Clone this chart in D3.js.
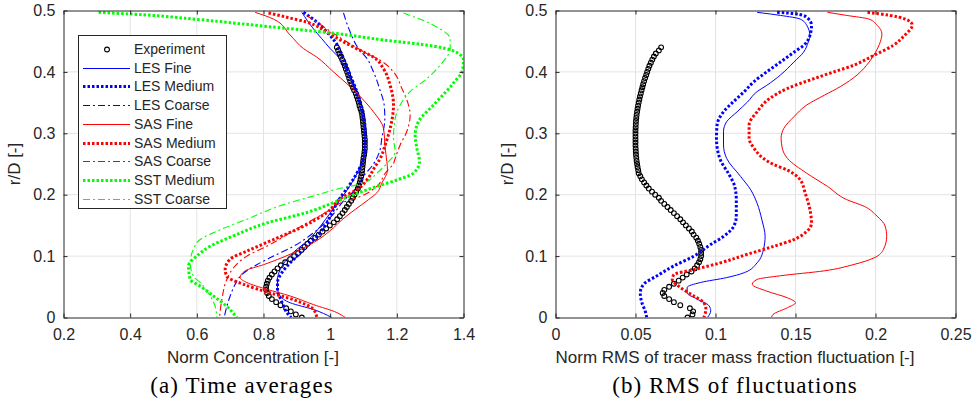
<!DOCTYPE html>
<html lang="en">
<head>
<meta charset="UTF-8">
<title>Concentration profiles</title>
<script src="https://d3js.org/d3.v7.min.js"></script>
<style>
  body { margin: 0; background: #fff; }
  text { font-family: "Liberation Sans", Arial, sans-serif; fill: #262626; }
  .caption { font-family: "Liberation Serif", "DejaVu Serif", serif; fill: #000; letter-spacing: 1.1px; }
</style>
</head>
<body>
<script>
// radial positions of the experiment points
var expR = [0,0.005,0.01,0.015,0.02,0.025,0.03,0.035,0.04,0.045,0.05,0.055,0.06,0.065,0.07,0.075,0.08,0.085,0.09,0.095,
  0.1,0.105,0.11,0.115,0.12,0.125,0.13,0.135,0.14,0.145,0.15,0.155,0.16,0.165,0.17,0.175,0.18,0.185,0.19,0.195,
  0.2,0.205,0.21,0.215,0.22,0.225,0.23,0.235,0.24,0.245,0.25,0.255,0.26,0.265,0.27,0.275,0.28,0.285,0.29,0.295,
  0.3,0.305,0.31,0.315,0.32,0.325,0.33,0.335,0.34,0.345,0.35,0.355,0.36,0.365,0.37,0.375,0.38,0.385,0.39,0.395,
  0.4,0.405,0.41,0.415,0.42,0.425,0.43,0.435,0.44];
var expMean = [0.915,0.897,0.882,0.868,0.851,0.838,0.825,0.816,0.811,0.808,0.808,0.81,0.813,0.818,0.825,0.833,0.842,0.852,0.865,0.88,
  0.892,0.904,0.914,0.923,0.932,0.942,0.955,0.966,0.977,0.988,0.999,1.011,1.021,1.029,1.037,1.044,1.05,1.056,1.063,1.068,
  1.073,1.078,1.083,1.086,1.089,1.091,1.093,1.095,1.096,1.097,1.098,1.099,1.1,1.102,1.103,1.104,1.104,1.104,1.104,1.103,
  1.102,1.101,1.1,1.099,1.098,1.097,1.096,1.094,1.091,1.088,1.086,1.083,1.08,1.077,1.072,1.068,1.064,1.06,1.057,1.054,
  1.051,1.047,1.044,1.04,1.036,1.032,1.028,1.024,1.02];
var expRms = [0.0825,0.0856,0.086,0.084,0.078,0.074,0.071,0.068,0.067,0.068,0.071,0.074,0.077,0.0795,0.082,0.085,0.087,0.0885,0.0897,0.0905,
  0.091,0.091,0.091,0.0905,0.0898,0.089,0.088,0.0863,0.0852,0.0834,0.0815,0.0797,0.078,0.076,0.074,0.072,0.07,0.068,0.066,0.0646,
  0.0623,0.0603,0.0583,0.0568,0.0554,0.054,0.053,0.052,0.0517,0.0513,0.051,0.0507,0.0505,0.0503,0.0502,0.0501,0.05,0.05,0.05,0.05,
  0.05,0.05,0.0501,0.0502,0.0503,0.0505,0.0507,0.051,0.0513,0.0516,0.052,0.0524,0.0528,0.0533,0.0538,0.0543,0.0548,0.0554,0.056,0.0567,
  0.0573,0.058,0.0587,0.0596,0.0605,0.0615,0.0627,0.0646,0.066];

// [r/D, value] pairs, time averages
var lesFineMean = [[0.497,0.915],[0.47,0.95],[0.454,0.975],[0.438,1.0],[0.427,1.02],[0.395,1.055],[0.362,1.08],[0.324,1.098],
  [0.292,1.105],[0.265,1.102],[0.246,1.09],[0.224,1.07],[0.203,1.045],[0.181,1.015],[0.159,0.985],[0.138,0.955],[0.124,0.93],
  [0.111,0.9],[0.095,0.87],[0.078,0.85],[0.062,0.842],[0.049,0.842],[0.035,0.85],[0.024,0.88],[0.013,0.95],[0.0,1.005]];
var lesMediumMean = [[0.497,0.92],[0.481,0.96],[0.465,0.99],[0.449,1.015],[0.422,1.04],[0.395,1.06],[0.368,1.08],[0.335,1.098],
  [0.303,1.105],[0.27,1.105],[0.251,1.095],[0.235,1.08],[0.2135,1.055],[0.195,1.03],[0.176,1.01],[0.154,0.99],[0.135,0.965],
  [0.122,0.94],[0.105,0.91],[0.089,0.88],[0.073,0.855],[0.057,0.842],[0.043,0.842],[0.032,0.85],[0.019,0.86],[0.008,0.87],[0.0,0.883]];
var lesCoarseMean = [[0.496,1.04],[0.465,1.06],[0.438,1.085],[0.422,1.11],[0.4,1.13],[0.373,1.148],[0.346,1.162],[0.324,1.164],
  [0.292,1.155],[0.27,1.148],[0.25,1.13],[0.23,1.1],[0.208,1.075],[0.19,1.04],[0.172,1.015],[0.157,0.99],[0.138,0.95],
  [0.116,0.89],[0.1,0.83],[0.086,0.78],[0.07,0.735],[0.054,0.715],[0.035,0.7],[0.018,0.69],[0.0,0.682]];
var sasFineMean = [[0.497,0.775],[0.486,0.83],[0.46,0.88],[0.438,0.92],[0.424,0.96],[0.4,1.01],[0.376,1.06],[0.357,1.095],
  [0.335,1.13],[0.308,1.16],[0.276,1.165],[0.254,1.17],[0.24,1.172],[0.219,1.155],[0.203,1.14],[0.192,1.115],[0.176,1.075],
  [0.159,1.035],[0.146,1.01],[0.122,0.95],[0.103,0.88],[0.086,0.8],[0.076,0.745],[0.065,0.73],[0.057,0.75],
  [0.046,0.81],[0.035,0.88],[0.021,0.95],[0.008,1.02],[0.0,1.045]];
var sasMediumMean = [[0.496,0.815],[0.489,0.87],[0.481,0.93],[0.465,0.99],[0.449,1.04],[0.435,1.09],[0.424,1.13],[0.405,1.16],
  [0.378,1.18],[0.346,1.19],[0.308,1.18],[0.281,1.165],[0.259,1.15],[0.246,1.135],[0.224,1.11],[0.208,1.08],[0.197,1.04],
  [0.171,0.99],[0.146,0.91],[0.127,0.83],[0.108,0.75],[0.095,0.7],[0.078,0.685],[0.067,0.69],[0.054,0.74],
  [0.04,0.82],[0.029,0.89],[0.013,0.95],[0.0,0.96]];
var sasCoarseMean = [[0.492,0.93],[0.47,0.99],[0.449,1.05],[0.43,1.11],[0.419,1.15],[0.4,1.19],[0.373,1.215],[0.346,1.235],
  [0.33,1.24],[0.303,1.23],[0.281,1.21],[0.259,1.195],[0.251,1.19],[0.235,1.165],[0.2135,1.14],[0.197,1.09],[0.186,1.03],
  [0.172,0.99],[0.16,0.95],[0.138,0.88],[0.116,0.81],[0.1,0.75],[0.081,0.71],[0.062,0.69],[0.029,0.675],[0.0,0.668]];
var sstMediumMean = [[0.497,0.305],[0.494,0.41],[0.485,0.61],[0.474,0.81],[0.463,1.01],[0.452,1.16],[0.442,1.31],[0.434,1.37],
  [0.42,1.4],[0.404,1.398],[0.382,1.37],[0.346,1.31],[0.319,1.265],[0.297,1.255],[0.276,1.26],[0.254,1.268],[0.235,1.25],
  [0.224,1.2],[0.2135,1.14],[0.2,1.07],[0.187,1.01],[0.171,0.93],[0.154,0.81],[0.133,0.71],[0.116,0.64],
  [0.1,0.6],[0.084,0.575],[0.062,0.58],[0.051,0.61],[0.035,0.65],[0.018,0.69],[0.0,0.72]];
var sstCoarseMean = [[0.496,1.22],[0.476,1.31],[0.454,1.36],[0.438,1.36],[0.411,1.33],[0.389,1.29],[0.368,1.24],[0.346,1.21],
  [0.324,1.195],[0.292,1.19],[0.27,1.195],[0.251,1.17],[0.235,1.14],[0.219,1.1],[0.209,1.02],[0.198,0.95],[0.182,0.85],
  [0.16,0.75],[0.143,0.67],[0.127,0.61],[0.111,0.59],[0.089,0.58],[0.067,0.59],[0.057,0.61],[0.035,0.64],[0.018,0.655],[0.0,0.66]];

// [r/D, value] pairs, RMS of fluctuations
var lesFineRms = [[0.497,0.126],[0.492,0.1406],[0.486,0.153],[0.476,0.157],[0.459,0.159],[0.449,0.158],[0.432,0.155],[0.416,0.149],
  [0.395,0.1406],[0.378,0.132],[0.368,0.126],[0.351,0.12],[0.335,0.1135],[0.319,0.107],[0.303,0.105],[0.281,0.105],[0.259,0.107],
  [0.23,0.1156],[0.208,0.122],[0.186,0.126],[0.159,0.129],[0.132,0.131],[0.111,0.13],[0.089,0.126],[0.073,0.118],[0.065,0.107],
  [0.057,0.0906],[0.049,0.0823],[0.04,0.0823],[0.03,0.0885],[0.019,0.096],[0.011,0.097],[0.0,0.095]];
var lesMediumRms = [[0.497,0.1385],[0.495,0.149],[0.489,0.157],[0.476,0.16],[0.459,0.159],[0.443,0.155],[0.432,0.149],[0.416,0.1406],
  [0.4,0.132],[0.384,0.124],[0.368,0.118],[0.351,0.111],[0.335,0.105],[0.3135,0.101],[0.292,0.1006],[0.27,0.1015],[0.254,0.1035],
  [0.235,0.108],[0.2135,0.112],[0.192,0.113],[0.165,0.113],[0.149,0.1115],[0.132,0.105],[0.119,0.097],[0.1,0.0865],[0.084,0.074],
  [0.068,0.0635],[0.054,0.055],[0.04,0.053],[0.024,0.054],[0.011,0.056],[0.0,0.057]];
var sasFineRms = [[0.497,0.17],[0.492,0.182],[0.486,0.196],[0.476,0.201],[0.462,0.204],[0.449,0.203],[0.432,0.2],[0.416,0.196],
  [0.395,0.1885],[0.376,0.178],[0.362,0.168],[0.346,0.157],[0.327,0.149],[0.308,0.1427],[0.292,0.141],[0.276,0.1417],[0.259,0.145],
  [0.235,0.157],[0.2135,0.17],[0.192,0.182],[0.181,0.193],[0.165,0.201],[0.149,0.206],[0.132,0.207],[0.111,0.205],[0.097,0.199],
  [0.086,0.186],[0.076,0.168],[0.068,0.1406],[0.062,0.126],[0.054,0.123],[0.043,0.132],[0.032,0.145],[0.024,0.15],[0.016,0.145],
  [0.005,0.136],[0.0,0.135]];
var sasMediumRms = [[0.497,0.195],[0.492,0.209],[0.481,0.222],[0.476,0.223],[0.459,0.218],[0.443,0.211],[0.427,0.199],[0.411,0.1865],
  [0.4,0.174],[0.389,0.1615],[0.373,0.145],[0.357,0.134],[0.335,0.126],[0.3135,0.121],[0.292,0.121],[0.276,0.124],[0.259,0.13],
  [0.249,0.1365],[0.24,0.145],[0.224,0.153],[0.203,0.156],[0.176,0.159],[0.154,0.16],[0.14,0.157],[0.127,0.149],[0.116,0.1365],
  [0.103,0.12],[0.089,0.103],[0.078,0.0865],[0.07,0.074],[0.062,0.073],[0.049,0.078],[0.035,0.0865],[0.024,0.0927],[0.0135,0.094],
  [0.0,0.0927]];

var rTicks = [0, 0.1, 0.2, 0.3, 0.4, 0.5];
var meanTicks = [0.2, 0.4, 0.6, 0.8, 1, 1.2, 1.4];
var rmsTicks = [0, 0.05, 0.1, 0.15, 0.2, 0.25];
var legendNames = ["Experiment", "LES Fine", "LES Medium", "LES Coarse", "SAS Fine", "SAS Medium", "SAS Coarse", "SST Medium", "SST Coarse"];

// line styles
var styles = {
  fine:   { width: 1,   dash: null },
  medium: { width: 3,   dash: "2.5,2" },
  coarse: { width: 1.1, dash: "7,3,2,3" }
};
var BLUE = "#0000ff", RED = "#ff0000", GREEN = "#00ff00";

var svg = d3.select("body").append("svg")
  .attr("width", 974).attr("height", 401);
svg.append("rect").attr("width", 974).attr("height", 401).attr("fill", "#fff");

var plotTop = 10.5, plotBottom = 317.5;
var y = d3.scaleLinear().domain([0, 0.5]).range([plotBottom, plotTop]);

function drawPanel(x0, x1, domain, ticks, xLabel, xLabelX, yLabelX, caption, captionX, series, exp) {
  var x = d3.scaleLinear().domain(domain).range([x0, x1]);
  var g = svg.append("g");

  // grid
  g.append("g").selectAll("line").data(ticks.slice(1, -1)).join("line")
    .attr("x1", d => x(d)).attr("x2", d => x(d)).attr("y1", plotTop).attr("y2", plotBottom)
    .attr("stroke", "#e3e3e3").attr("stroke-width", 1);
  g.append("g").selectAll("line").data(rTicks.slice(1, -1)).join("line")
    .attr("x1", x0).attr("x2", x1).attr("y1", d => y(d)).attr("y2", d => y(d))
    .attr("stroke", "#e3e3e3").attr("stroke-width", 1);

  var clipId = "clip" + Math.round(x0);
  svg.append("clipPath").attr("id", clipId).append("rect")
    .attr("x", x0).attr("y", plotTop).attr("width", x1 - x0).attr("height", plotBottom - plotTop);
  var plot = g.append("g").attr("clip-path", "url(#" + clipId + ")");

  // experiment circles
  plot.append("g").selectAll("circle").data(exp).join("circle")
    .attr("cx", d => x(d[1])).attr("cy", d => y(d[0])).attr("r", 2.4)
    .attr("fill", "none").attr("stroke", "#000").attr("stroke-width", 1.1);

  var line = d3.line().x(d => x(d[1])).y(d => y(d[0])).curve(d3.curveMonotoneY);
  series.forEach(function (s) {
    var st = styles[s.style];
    plot.append("path").datum(s.data)
      .attr("d", line).attr("fill", "none")
      .attr("stroke", s.color).attr("stroke-width", st.width)
      .attr("stroke-dasharray", st.dash);
  });

  // axes with inward ticks on all four sides
  var fmt = d3.format("~g");
  var axes = [
    g.append("g").attr("transform", "translate(0," + plotBottom + ")")
      .call(d3.axisBottom(x).tickValues(ticks).tickFormat(fmt).tickSizeInner(-4).tickSizeOuter(0).tickPadding(11)),
    g.append("g").attr("transform", "translate(0," + plotTop + ")")
      .call(d3.axisTop(x).tickValues(ticks).tickFormat("").tickSizeInner(-4).tickSizeOuter(0)),
    g.append("g").attr("transform", "translate(" + x0 + ",0)")
      .call(d3.axisLeft(y).tickValues(rTicks).tickFormat(fmt).tickSizeInner(-4).tickSizeOuter(0).tickPadding(8)),
    g.append("g").attr("transform", "translate(" + x1 + ",0)")
      .call(d3.axisRight(y).tickValues(rTicks).tickFormat("").tickSizeInner(-4).tickSizeOuter(0))
  ];
  axes.forEach(function (a) {
    a.select(".domain").attr("stroke", "#262626");
    a.selectAll(".tick line").attr("stroke", "#262626");
    a.selectAll("text").attr("font-size", 16).attr("fill", "#262626")
      .attr("font-family", "Liberation Sans, Arial, sans-serif");
  });

  g.append("text").attr("x", xLabelX).attr("y", 363).attr("text-anchor", "middle")
    .attr("font-size", 17).text(xLabel);
  g.append("text").attr("transform", "translate(" + yLabelX + "," + ((plotTop + plotBottom) / 2) + ") rotate(-90)")
    .attr("text-anchor", "middle").attr("font-size", 17).text("r/D [-]");
  g.append("text").attr("class", "caption").attr("x", captionX).attr("y", 393)
    .attr("text-anchor", "middle").attr("font-size", 23).text(caption);
  return x;
}

function pairs(vals) { return expR.map((r, i) => [r, vals[i]]); }

drawPanel(63.5, 463.5, [0.2, 1.4], meanTicks, "Norm Concentration [-]", 253, 20, "(a) Time averages", 242, [
  { data: lesFineMean, color: BLUE, style: "fine" },
  { data: lesMediumMean, color: BLUE, style: "medium" },
  { data: lesCoarseMean, color: BLUE, style: "coarse" },
  { data: sasFineMean, color: RED, style: "fine" },
  { data: sasMediumMean, color: RED, style: "medium" },
  { data: sasCoarseMean, color: RED, style: "coarse" },
  { data: sstMediumMean, color: GREEN, style: "medium" },
  { data: sstCoarseMean, color: GREEN, style: "coarse" }
], pairs(expMean));

drawPanel(555.5, 955.5, [0, 0.25], rmsTicks, "Norm RMS of tracer mass fraction fluctuation [-]", 735, 513, "(b) RMS of fluctuations", 735, [
  { data: lesFineRms, color: BLUE, style: "fine" },
  { data: lesMediumRms, color: BLUE, style: "medium" },
  { data: sasFineRms, color: RED, style: "fine" },
  { data: sasMediumRms, color: RED, style: "medium" }
], pairs(expRms));

// legend
var legendStyles = [null, ["fine", BLUE], ["medium", BLUE], ["coarse", BLUE], ["fine", RED], ["medium", RED], ["coarse", RED], ["medium", GREEN], ["coarse", GREEN]];
var lg = svg.append("g");
lg.append("rect").attr("x", 78.5).attr("y", 35.5).attr("width", 148).attr("height", 173)
  .attr("fill", "#fff").attr("stroke", "#262626").attr("stroke-width", 1);
var item = lg.selectAll("g.item").data(legendNames).join("g").attr("class", "item")
  .attr("transform", (d, i) => "translate(0," + (Math.round(49 + i * 18.7) + 0.5) + ")");
item.each(function (d, i) {
  var it = d3.select(this);
  if (i === 0) {
    it.append("circle").attr("cx", 107).attr("cy", 0).attr("r", 2.4)
      .attr("fill", "none").attr("stroke", "#000").attr("stroke-width", 1.1);
  } else {
    var st = styles[legendStyles[i][0]];
    it.append("line").attr("x1", 83).attr("x2", 130).attr("y1", 0).attr("y2", 0)
      .attr("stroke", legendStyles[i][1]).attr("stroke-width", st.width)
      .attr("stroke-dasharray", st.dash);
  }
  it.append("text").attr("x", 134).attr("y", 0).attr("dy", "0.35em")
    .attr("font-size", 14).text(d);
});
</script>
</body>
</html>
